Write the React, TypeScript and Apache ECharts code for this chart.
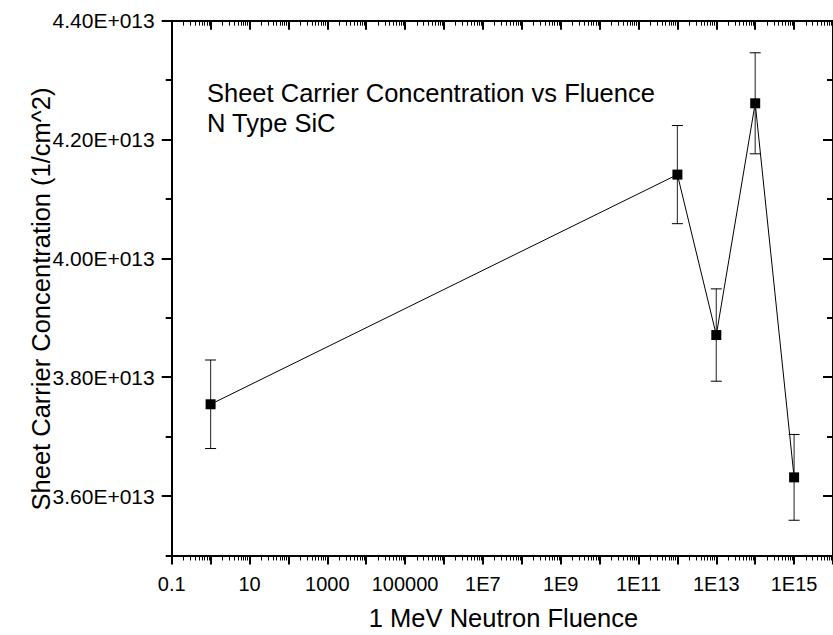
import { useEffect, useRef } from 'react';
import * as echarts from 'echarts';

const fluence = [1, 1e12, 1e13, 1e14, 1e15];
const concentration = [3.7545e13, 4.141e13, 3.871e13, 4.261e13, 3.6315e13];
const errorBar = [0.0745e13, 0.0826e13, 0.0777e13, 0.085e13, 0.0722e13];

const xLabelValues = [0.1, 10, 1e3, 1e5, 1e7, 1e9, 1e11, 1e13, 1e15];
const xLabelTexts = ['0.1', '10', '1000', '100000', '1E7', '1E9', '1E11', '1E13', '1E15'];
const xMinorMantissas = [2, 3, 4, 5, 6, 7, 8, 9];
const xDecades = [-1, 0, 1, 2, 3, 4, 5, 6, 7, 8, 9, 10, 11, 12, 13, 14, 15];

const yLabelValues = [3.6e13, 3.8e13, 4.0e13, 4.2e13, 4.4e13];
const yLabelTexts = ['3.60E+013', '3.80E+013', '4.00E+013', '4.20E+013', '4.40E+013'];
const yMinorValues = [3.5e13, 3.7e13, 3.9e13, 4.1e13, 4.3e13];

const titleLines = ['Sheet Carrier Concentration vs Fluence', 'N Type SiC'];
const xTitle = '1 MeV Neutron Fluence';
const yTitle = 'Sheet Carrier Concentration (1/cm^2)';

const FONT = 'Liberation Sans, Arial, Helvetica, sans-serif';

export default function App() {
  const ref = useRef<HTMLDivElement>(null);
  useEffect(() => {
    document.body.style.margin = '0';
    document.body.style.overflow = 'hidden';
    const chart = echarts.init(ref.current!, null, { renderer: 'svg' });

    // tick positions of the decorative axes, in decade (log10) units
    const xMinorLog: number[] = [];
    xDecades.forEach((e) => xMinorMantissas.forEach((m) => xMinorLog.push(e + Math.log10(m))));

    const xLabelFmt = (v: number) => {
      const lv = Math.log10(v);
      for (let i = 0; i < xLabelValues.length; i++) {
        if (Math.abs(Math.log10(xLabelValues[i]) - lv) < 1e-6) return xLabelTexts[i];
      }
      return '';
    };
    const yLabelFmt = (v: number) => {
      for (let i = 0; i < yLabelValues.length; i++) {
        if (Math.abs(yLabelValues[i] - v) < 1e9) return yLabelTexts[i];
      }
      return '';
    };

    const axisLine = { show: true, onZero: false, lineStyle: { color: '#000', width: 2 } };
    const noLine = { show: false, onZero: false };
    const majorTick = { color: '#000', width: 2 };
    const minorTick = { color: '#000', width: 1 };
    const xLog = { type: 'log', logBase: 10, min: 0.1, max: 1e16, splitLine: { show: false } };
    const xDeco = {
      type: 'value',
      min: -1,
      max: 16,
      splitLine: { show: false },
      axisLine: noLine,
      axisLabel: { show: false },
    };
    const yBase = { type: 'value', min: 3.5e13, max: 4.4e13, splitLine: { show: false } };

    const errData = fluence.map((x, i) => [x, concentration[i] - errorBar[i], concentration[i] + errorBar[i]]);
    const lineData = fluence.map((x, i) => [x, concentration[i]]);

    chart.setOption({
      animation: false,
      grid: { left: 171.7, top: 20.7, right: -2.3, bottom: 79.5, containLabel: false },
      xAxis: [
        {
          ...xLog,
          position: 'bottom',
          axisLine,
          axisTick: { show: false },
          axisLabel: {
            show: true,
            customValues: xLabelValues,
            formatter: xLabelFmt,
            margin: 18,
            color: '#000',
            fontSize: 20,
            fontFamily: FONT,
          },
        },
        {
          ...xDeco,
          position: 'bottom',
          interval: 1,
          axisTick: { show: true, inside: false, length: 9, lineStyle: majorTick },
        },
        {
          ...xDeco,
          position: 'bottom',
          axisTick: { show: true, inside: false, length: 5, customValues: xMinorLog, lineStyle: minorTick },
        },
        {
          ...xDeco,
          position: 'top',
          interval: 1,
          axisLine,
          axisTick: { show: true, inside: true, length: 9, lineStyle: majorTick },
        },
        {
          ...xDeco,
          position: 'top',
          axisTick: { show: true, inside: true, length: 5, customValues: xMinorLog, lineStyle: minorTick },
        },
      ],
      yAxis: [
        {
          ...yBase,
          position: 'left',
          axisLine,
          axisTick: { show: true, inside: false, length: 10, customValues: yLabelValues, lineStyle: majorTick },
          axisLabel: {
            show: true,
            customValues: yLabelValues,
            formatter: yLabelFmt,
            margin: 17,
            color: '#000',
            fontSize: 21,
            fontFamily: FONT,
          },
        },
        {
          ...yBase,
          position: 'left',
          axisLine: noLine,
          axisTick: { show: true, inside: false, length: 6, customValues: yMinorValues, lineStyle: majorTick },
          axisLabel: { show: false },
        },
        {
          ...yBase,
          position: 'right',
          axisLine,
          axisTick: { show: true, inside: true, length: 10, customValues: yLabelValues, lineStyle: majorTick },
          axisLabel: { show: false },
        },
        {
          ...yBase,
          position: 'right',
          axisLine: noLine,
          axisTick: { show: true, inside: true, length: 6, customValues: yMinorValues, lineStyle: majorTick },
          axisLabel: { show: false },
        },
      ],
      series: [
        {
          type: 'custom',
          xAxisIndex: 0,
          yAxisIndex: 0,
          z: 2,
          data: errData,
          renderItem: (_params: any, api: any) => {
            const x = api.value(0);
            const lo = api.coord([x, api.value(1)]);
            const hi = api.coord([x, api.value(2)]);
            const hw = 5.5;
            const style = { stroke: '#000', lineWidth: 1 };
            return {
              type: 'group',
              children: [
                { type: 'line', shape: { x1: hi[0], y1: hi[1], x2: lo[0], y2: lo[1] }, style: { stroke: '#444', lineWidth: 1.2 } },
                { type: 'line', shape: { x1: hi[0] - hw, y1: hi[1], x2: hi[0] + hw, y2: hi[1] }, style },
                { type: 'line', shape: { x1: lo[0] - hw, y1: lo[1], x2: lo[0] + hw, y2: lo[1] }, style },
              ],
            };
          },
        },
        {
          type: 'line',
          xAxisIndex: 0,
          yAxisIndex: 0,
          z: 3,
          data: lineData,
          symbol: 'rect',
          symbolSize: 10,
          itemStyle: { color: '#000' },
          lineStyle: { color: '#000', width: 1 },
        },
      ],
      graphic: [
        {
          type: 'text',
          x: 207,
          y: 92.5,
          style: { text: titleLines[0], fill: '#000', font: `25.5px ${FONT}`, align: 'left', verticalAlign: 'middle' },
        },
        {
          type: 'text',
          x: 207,
          y: 123.3,
          style: { text: titleLines[1], fill: '#000', font: `25.5px ${FONT}`, align: 'left', verticalAlign: 'middle' },
        },
        {
          type: 'text',
          x: 503.5,
          y: 618,
          style: { text: xTitle, fill: '#000', font: `25.5px ${FONT}`, align: 'center', verticalAlign: 'middle' },
        },
        {
          type: 'text',
          x: 41,
          y: 299,
          rotation: Math.PI / 2,
          style: { text: yTitle, fill: '#000', font: `25.5px ${FONT}`, align: 'center', verticalAlign: 'middle' },
        },
      ],
    });
    return () => chart.dispose();
  }, []);
  return <div ref={ref} style={{ width: 833, height: 635 }} />;
}
